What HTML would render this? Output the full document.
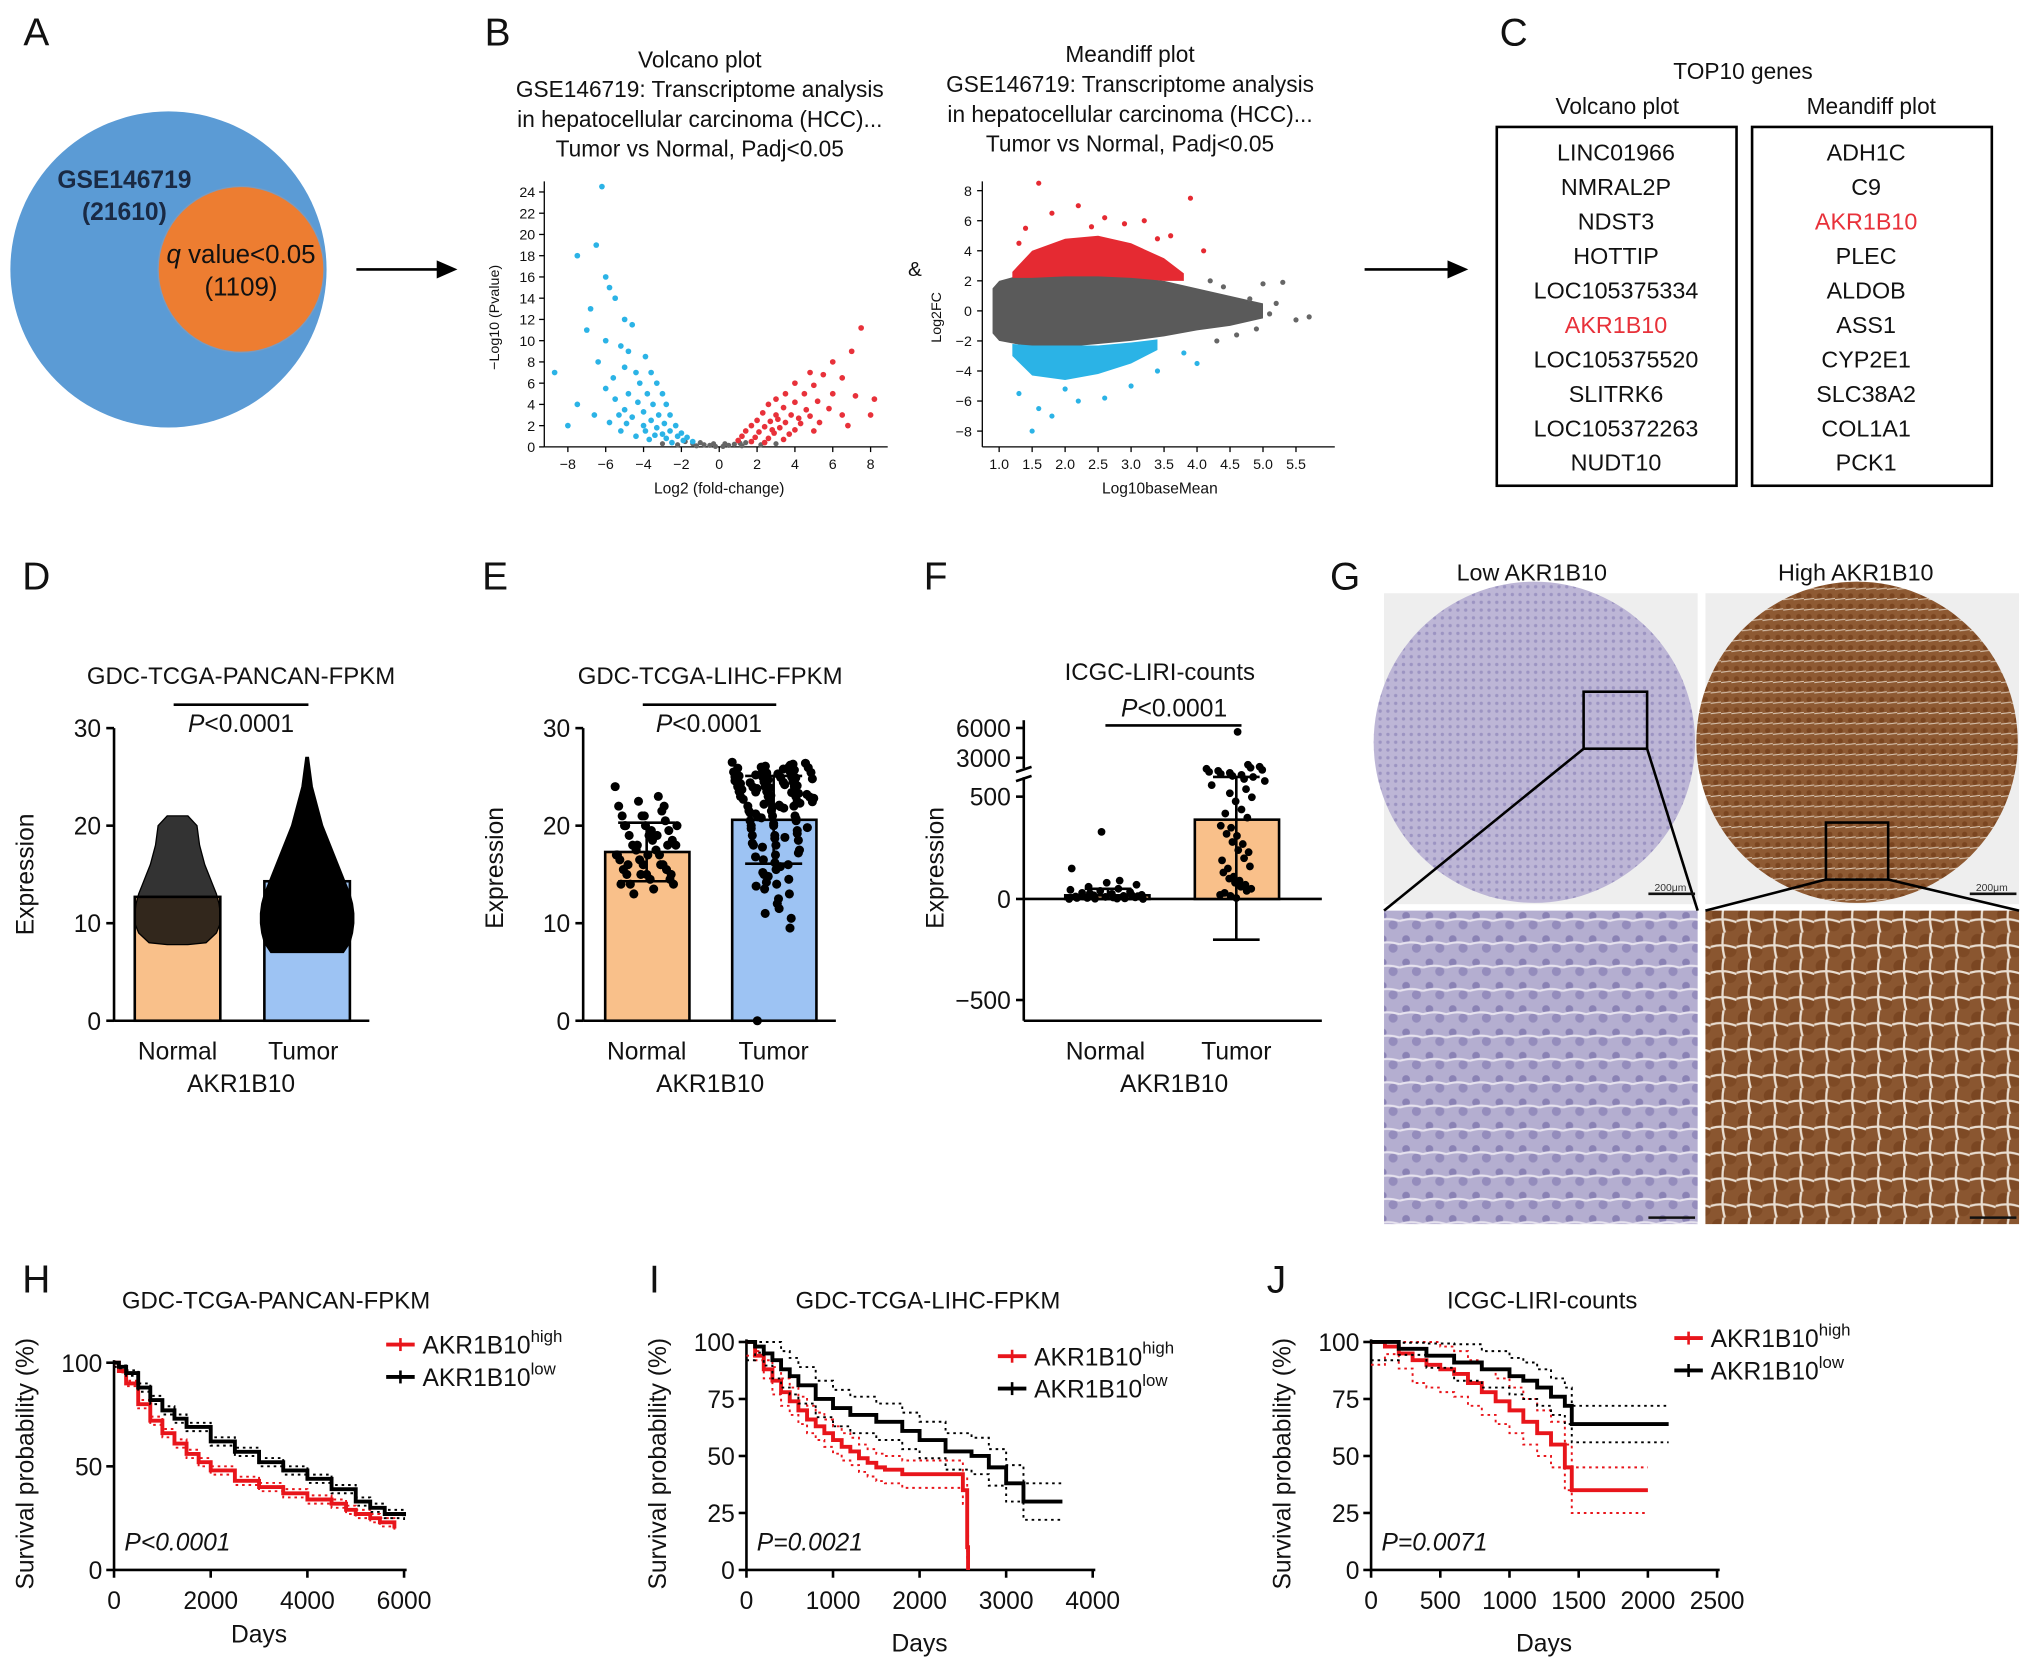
<!DOCTYPE html>
<html><head><meta charset="utf-8"><style>
html,body{margin:0;padding:0;background:#fff}
svg{display:block;font-family:"Liberation Sans",Arial,sans-serif}
</style></head><body>
<svg id="fig" width="2032" height="1671" viewBox="0 0 1568 1290" preserveAspectRatio="none" xmlns="http://www.w3.org/2000/svg">
<defs>
<pattern id="purpTex" width="18" height="18" patternUnits="userSpaceOnUse"><rect width="18" height="18" fill="#b4aed0"/><circle cx="5" cy="5" r="3" fill="#8a82b4"/><circle cx="13" cy="12" r="3.5" fill="#948cbc"/><path d="M0 9 Q9 6 18 9" stroke="#e6e2ee" stroke-width="1.6" fill="none"/></pattern>
<pattern id="brownTex" width="20" height="20" patternUnits="userSpaceOnUse"><rect width="20" height="20" fill="#8a5630"/><circle cx="6" cy="6" r="5" fill="#7a4622"/><circle cx="15" cy="14" r="5" fill="#7e4a25"/><path d="M0 11 Q10 8 20 12 M10 0 Q8 10 11 20" stroke="#e9ddd0" stroke-width="1.8" fill="none"/></pattern>
<pattern id="purpSmall" width="6" height="6" patternUnits="userSpaceOnUse"><rect width="6" height="6" fill="#bdb6d6"/><circle cx="3" cy="3" r="1.3" fill="#9c94c2"/></pattern>
<pattern id="brownSmall" width="8" height="8" patternUnits="userSpaceOnUse"><rect width="8" height="8" fill="#8e5a33"/><circle cx="4" cy="4" r="2" fill="#7a4520"/><path d="M0 7 L8 6" stroke="#d8c4b0" stroke-width="0.8"/></pattern>
</defs>
</svg>
<script>
// ===== DATA =====
const volcanoBlue=[[-6.2,24.5],[-6.5,19],[-7.5,18],[-6,16],[-5.8,15],[-5.5,14],[-6.8,13],[-5,12],[-4.6,11.5],[-7,11],[-6,10],[-5.2,9.5],[-4.8,9],[-3.9,8.5],[-6.4,8],[-5,7.5],[-4.4,7],[-3.6,7],[-8.7,7],[-5.6,6.5],[-4.2,6],[-3.3,6],[-6,5.5],[-4.8,5],[-3.8,5],[-3,5],[-5.5,4.5],[-4.3,4.2],[-3.5,4],[-2.8,4],[-5,3.5],[-4,3.3],[-3.2,3],[-2.6,3],[-4.6,2.8],[-3.6,2.5],[-2.9,2.2],[-2.3,2],[-4,2],[-3.3,1.8],[-2.6,1.5],[-2,1.3],[-3,1.2],[-2.2,1],[-1.7,0.9],[-2.8,0.8],[-1.9,0.6],[-1.4,0.5],[-7.5,4],[-6.6,3],[-5.8,2.3],[-8,2],[-5.2,1.5],[-4.4,1],[-3.7,0.7],[-2.5,0.4],[-4.9,2.2],[-3.9,1.5],[-3.4,1.1],[-5.3,3]];
const volcanoRed=[[7.5,11.2],[7,9],[6,8],[4.8,7],[5.5,6.8],[6.5,6.5],[4,6],[5,5.8],[3.5,5],[4.5,5],[6,5],[3,4.5],[4,4.2],[5.2,4.3],[7.2,4.8],[8.2,4.5],[2.6,4],[3.4,3.7],[4.6,3.5],[5.8,3.6],[2.3,3.2],[3,3],[3.8,3],[4.8,2.9],[6.5,3],[2,2.5],[2.7,2.4],[3.5,2.3],[4.3,2.2],[5.3,2.3],[1.7,2],[2.4,1.9],[3.2,1.8],[4,1.6],[5,1.5],[1.4,1.5],[2.1,1.4],[2.9,1.3],[3.7,1.2],[1.2,1],[1.9,0.9],[2.6,0.8],[3.4,0.7],[1,0.6],[1.7,0.5],[2.4,0.4],[8,3],[6.8,2],[3.1,2.6],[4.2,2.7],[2.8,1.6]];
const volcanoGrey=[[-1.8,0.5],[-1.4,0.3],[-1,0.4],[-0.8,0.2],[-0.5,0.15],[-0.2,0.05],[0.2,0.05],[0.5,0.15],[0.8,0.25],[1.1,0.35],[1.4,0.4],[-2.2,0.2],[2.2,0.2],[-1.2,0.1],[1.2,0.1],[-3,0.3],[3,0.3],[-0.3,0.3],[0.3,0.3]];
const meanX=[0.9,1.0,1.5,2.0,2.5,3.0,3.5,4.0,4.5,5.0];
const meanGreyUp=[1.5,2,2.6,2.6,2.5,2.3,2,1.5,1,0.5];
const meanGreyLo=[-1.5,-2,-2.4,-2.4,-2.2,-2,-1.7,-1.3,-1,-0.5];
const meanRedX=[1.2,1.5,2.0,2.5,3.0,3.5,3.8];
const meanRedUp=[2.6,4,4.8,5,4.5,3.5,2.5];
const meanRedLo=[2.2,2.2,2.3,2.3,2.2,2,2];
const meanBlueX=[1.2,1.5,2.0,2.5,3.0,3.4];
const meanBlueUp=[-2.2,-2.3,-2.3,-2.3,-2.1,-1.9];
const meanBlueLo=[-3,-4.3,-4.6,-4.2,-3.5,-2.6];
const meanRedPts=[[1.6,8.5],[2.2,7],[1.8,6.5],[2.6,6.2],[3.2,6],[3.9,7.5],[1.4,5.5],[2.9,5.8],[3.6,5],[4.1,4],[1.3,4.5],[2.4,5.6],[3.4,4.8]];
const meanBluePts=[[1.5,-8],[1.8,-7],[1.6,-6.5],[2.2,-6],[2.6,-5.8],[3.0,-5],[1.3,-5.5],[2.0,-5.2],[3.4,-4],[3.8,-2.8],[4.0,-3.5]];
const meanGreyPts=[[4.2,2],[4.4,1.6],[4.6,-1.6],[4.8,0.8],[5.0,1.8],[5.2,0.5],[5.3,1.9],[5.5,-0.6],[5.7,-0.4],[4.9,-1.2],[4.3,-2],[5.1,-0.2]];
const top10Volcano=["LINC01966","NMRAL2P","NDST3","HOTTIP","LOC105375334","AKR1B10","LOC105375520","SLITRK6","LOC105372263","NUDT10"];
const top10Meandiff=["ADH1C","C9","AKR1B10","PLEC","ALDOB","ASS1","CYP2E1","SLC38A2","COL1A1","PCK1"];
const dMeans=[12.7,14.3];
const dNormalLevels=[7.8,8,9,10,11,12,13,14,15,16,17,18,19,20,21];
const dNormalWidth=[8,22,30,33,33,32,30,27,24,21,19,17,16,15,8];
const dTumorLevels=[7,8,9,10,11,12,13,14,15,16,17,18,19,20,21,22,23,24,25,26,27];
const dTumorWidth=[28,33,35,36,36,35,33,30,27,24,21,18,15,12,10,8,6,4,3,2,1];
const eMeans=[17.3,20.6];
const eSD=[3,4.5];
const eNormal=[24,23,22.5,22,21.5,21,21,20.5,20,20,19.5,19,19,18.5,18.5,18,18,17.5,17.5,17,17,16.5,16.5,16,16,15.5,15.5,15,15,14.5,14.5,14,14,13.5,13,20,19,18,17,16,15,14,22,21,20,18,17,16,15,19.5];
const eTumor=[26.5,26,26,25.5,25.5,25,25,25,24.5,24.5,24.5,24,24,24,23.5,23.5,23,23,23,22.5,22.5,22,22,21.5,21.5,21,21,20.5,20.5,20,20,19.5,19,19,18.5,18,18,17.5,17,16.5,16,15.5,15,14.5,14,13.5,13,12,11,9.5,25.8,25.2,24.8,24.2,23.8,22.8,21.8,20.8,19.8,18.8,17.8,16.8,15.8,14.8,13.8,26.2,25.6,24.6,23.4,22.2,0,26.3,26.1,25.9,25.7,25.4,25.1,24.9,24.7,24.3,24.1,23.9,23.7,23.3,23.1,22.7,22.3,21.9,21.3,20.7,20.2,19.7,19.2,18.7,18.2,17.2,16.2,15.2,26.4,25.3,24.4,23.2,22.1,21.2,25.95,24.95,23.95,22.95,21.95,20.9,25.45,24.45,23.45,22.45,12.5,14.2,10.5,11.5];
const fMeans=[18,390];
const fErr=[[0,50],[-200,600]];
const fNormal=[0,2,5,8,10,12,15,18,20,25,30,35,40,45,50,60,70,80,5,3,1,0,7,12,22,330,150,90,28,14];
const fTumor=[20,40,60,80,100,130,160,200,240,280,320,360,400,440,480,520,560,580,600,610,620,630,640,650,660,5,15,30,50,70,90,110,150,190,230,270,310,350,420,500,540,590,605,615,625,635,645];
const hDays=[[0,100,250,500,750,1000,1250,1500,1750,2000,2500,3000,3500,4000,4500,4800,5000,5300,5500,5800],[0,100,250,500,750,1000,1250,1500,2000,2500,3000,3500,4000,4500,5000,5300,5600,6000]];
const hSurv=[[100,96,90,80,72,66,61,56,52,48,43,40,37,34,32,29,27,25,23,20],[100,98,95,88,82,77,73,69,62,57,52,48,44,39,33,30,27,26]];
const iDays=[[0,100,200,300,400,500,600,700,800,900,1000,1100,1200,1300,1400,1500,1600,1800,2000,2200,2400,2500,2550,2560],[0,100,200,300,400,500,600,800,1000,1200,1500,1800,2000,2300,2600,2800,3000,3200,3300,3650]];
const iSurv=[[100,94,88,83,78,74,70,66,63,60,57,54,52,49,47,45,44,42,42,42,42,35,10,0],[100,98,95,92,88,85,81,75,71,68,65,61,57,52,50,45,38,30,30,30]];
const jDays=[[0,100,200,300,400,500,600,700,800,900,1000,1100,1200,1300,1400,1450,1500,2000],[0,200,400,600,800,1000,1100,1200,1300,1400,1450,2150]];
const jSurv=[[100,98,95,92,90,88,86,82,78,74,70,65,60,55,45,35,35,35],[100,97,94,91,88,85,83,80,76,72,64,64]];
const kmTicksH=[0,2000,4000,6000], kmTicksI=[0,1000,2000,3000,4000], kmTicksJ=[0,500,1000,1500,2000,2500];
const kmY=[0,25,50,75,100];

// ===== HELPERS =====
const svg=document.getElementById('fig');
const NS='http://www.w3.org/2000/svg';
function mk(tag,attrs,parent){const e=document.createElementNS(NS,tag);for(const k in attrs)e.setAttribute(k,attrs[k]);(parent||svg).appendChild(e);return e;}
function txt(x,y,s,size,opts,parent){const o=Object.assign({x:x,y:y,'font-size':size,'text-anchor':'middle',fill:'#111'},opts||{});const t=mk('text',o,parent);t.textContent=s;return t;}
function grp(name){const g=mk('g',{});return g;}
function line(x1,y1,x2,y2,w,c,parent,dash){const o={x1,y1,x2,y2,stroke:c||'#000','stroke-width':w||1.5};if(dash)o['stroke-dasharray']=dash;return mk('line',o,parent);}

// ===== PANEL LETTERS =====
const letters=[['A',28,35],['B',384,35],['C',1168,35],['D',28,455],['E',382,455],['F',722,455],['G',1038,455],['H',28,998],['I',505,998],['J',985,998]];
const gl=grp('panel-letters');
letters.forEach(l=>{const t=txt(l[1],l[2],l[0],30,{},gl);});

// ===== A: Venn =====
const gA=grp('venn-diagram');
let c=mk('circle',{cx:130,cy:208,r:122,fill:'#5b9bd5'},gA);

c=mk('circle',{cx:186,cy:208,r:64,fill:'#ed7d31',stroke:'#7a9bc0','stroke-width':1},gA);

txt(96,145,'GSE146719',19,{'font-weight':'bold','fill':'#1a2a44'},gA);
txt(96,170,'(21610)',19,{'font-weight':'bold','fill':'#1a2a44'},gA);
const qt=txt(186,203,'',20,{},gA);qt.innerHTML='<tspan font-style="italic">q</tspan> value&lt;0.05';
txt(186,228,'(1109)',20,{},gA);
function arrow(x1,x2,y,name){const g=grp(name);line(x1,y,x2-10,y,2,'#000',g);mk('polygon',{points:`${x2},${y} ${x2-16},${y-7} ${x2-16},${y+7}`,fill:'#000'},g);}
arrow(275,353,208,'arrow-a-to-b');arrow(1053,1133,208,'arrow-b-to-c');

// ===== B: Volcano =====
const gV=grp('volcano-plot');
const vx=v=>555+v*14.6, vy=v=>345-v*8.2;
['Volcano plot','GSE146719: Transcriptome analysis','in hepatocellular carcinoma (HCC)...','Tumor vs Normal, Padj<0.05'].forEach((s,i)=>txt(540,52+i*23,s,17.5,{},gV));
line(420,345,685,345,1,'#000',gV);line(420,140,420,345,1,'#000',gV);
[-8,-6,-4,-2,0,2,4,6,8].forEach(t=>{line(vx(t),345,vx(t),349,1,'#000',gV);txt(vx(t),362,String(t).replace('-','−'),11,{},gV);});
for(let t=0;t<=24;t+=2){line(416,vy(t),420,vy(t),1,'#000',gV);txt(413,vy(t)+4,t,11,{'text-anchor':'end'},gV);}
txt(555,381,'Log2 (fold-change)',12,{},gV);
txt(385,245,'−Log10 (Pvalue)',11,{transform:'rotate(-90 385 245)'},gV);
volcanoGrey.forEach(p=>{const d=mk('circle',{cx:vx(p[0]),cy:vy(p[1]),r:2,fill:'#666'},gV);});
volcanoBlue.forEach(p=>{const d=mk('circle',{cx:vx(p[0]),cy:vy(p[1]),r:2.2,fill:'#2bb3e6'},gV);});
volcanoRed.forEach(p=>{const d=mk('circle',{cx:vx(p[0]),cy:vy(p[1]),r:2.2,fill:'#e8313a'},gV);});
txt(706,213,'&',16,{},gV);

// ===== B: Meandiff =====
const gM=grp('meandiff-plot');
const mx=v=>771+(v-1)*50.9, my=v=>240-v*11.6;
['Meandiff plot','GSE146719: Transcriptome analysis','in hepatocellular carcinoma (HCC)...','Tumor vs Normal, Padj<0.05'].forEach((s,i)=>txt(872,48+i*23,s,17.5,{},gM));
line(758,140,758,345,1,'#000',gM);line(758,345,1030,345,1,'#000',gM);
[1,1.5,2,2.5,3,3.5,4,4.5,5,5.5].forEach(t=>{line(mx(t),345,mx(t),349,1,'#000',gM);txt(mx(t),362,t.toFixed(1),11,{},gM);});
[-8,-6,-4,-2,0,2,4,6,8].forEach(t=>{line(754,my(t),758,my(t),1,'#000',gM);txt(750,my(t)+4,String(t).replace('-','−'),11,{'text-anchor':'end'},gM);});
txt(895,381,'Log10baseMean',12,{},gM);
txt(726,245,'Log2FC',11,{transform:'rotate(-90 726 245)'},gM);
function env(xs,up,lo,col,name){let d='M'+xs.map((x,i)=>mx(x)+' '+my(up[i])).join(' L')+' L'+xs.slice().reverse().map((x,i)=>mx(x)+' '+my(lo[lo.length-1-i])).join(' L')+'Z';const p=mk('path',{d:d,fill:col},gM);}
env(meanX,meanGreyUp,meanGreyLo,'#5a5a5a','meandiff-ns-cloud');
env(meanRedX,meanRedUp,meanRedLo,'#e52a32','meandiff-up-cloud');
env(meanBlueX,meanBlueUp,meanBlueLo,'#2bb3e6','meandiff-down-cloud');
meanGreyPts.forEach(p=>{const d=mk('circle',{cx:mx(p[0]),cy:my(p[1]),r:2,fill:'#666'},gM);});
meanRedPts.forEach(p=>{const d=mk('circle',{cx:mx(p[0]),cy:my(p[1]),r:2,fill:'#e52a32'},gM);});
meanBluePts.forEach(p=>{const d=mk('circle',{cx:mx(p[0]),cy:my(p[1]),r:2,fill:'#2bb3e6'},gM);});

// ===== C: top10 =====
const gC=grp('top10-genes-table');
txt(1345,61,'TOP10 genes',17.5,{},gC);
txt(1248,88,'Volcano plot',17.5,{},gC);txt(1444,88,'Meandiff plot',17.5,{},gC);
mk('rect',{x:1155,y:98,width:185,height:277,fill:'none',stroke:'#000','stroke-width':2},gC);
mk('rect',{x:1352,y:98,width:185,height:277,fill:'none',stroke:'#000','stroke-width':2},gC);
top10Volcano.forEach((g,i)=>{const t=txt(1247,124+i*26.6,g,18,{fill:g==='AKR1B10'?'#e8313a':'#111'},gC);});
top10Meandiff.forEach((g,i)=>{const t=txt(1440,124+i*26.6,g,18,{fill:g==='AKR1B10'?'#e8313a':'#111'},gC);});

// ===== Bar panels =====
function barAxes(g,x0,x1,ticks,yf,title,tx){
  line(x0,yf(ticks[0])+0,x0,yf(ticks[ticks.length-1]),2,'#000',g);
  ticks.forEach(t=>{line(x0-6,yf(t),x0,yf(t),2,'#000',g);txt(x0-10,yf(t)+7,String(t).replace('-','−'),19,{'text-anchor':'end'},g);});
  txt(tx,528,title,18.5,{},g);
}
const ORANGE='#f9c08a', BLUE='#9dc3f3';
// D
const gD=grp('chart-d-pancan-expression');
const dy=v=>788-v*7.53;
barAxes(gD,88,270,[0,10,20,30],dy,'GDC-TCGA-PANCAN-FPKM',186);
line(88,788,285,788,2,'#000',gD);
[[104,ORANGE],[204,BLUE]].forEach((b,i)=>{const r=mk('rect',{x:b[0],y:dy(dMeans[i]),width:66,height:788-dy(dMeans[i]),fill:b[1],stroke:'#000','stroke-width':2},gD);});
[[137,dNormalLevels,dNormalWidth],[237,dTumorLevels,dTumorWidth]].forEach((v,k)=>{let pts=[];v[1].forEach((l,i)=>pts.push((v[0]-v[2][i])+','+dy(l)));for(let i=v[1].length-1;i>=0;i--)pts.push((v[0]+v[2][i])+','+dy(v[1][i]));const p=mk('polygon',{points:pts.join(' '),fill:'#000','fill-opacity':k?1:0.8,stroke:'#000','stroke-width':1},gD);});
line(134,544,238,544,2,'#000',gD);
const pD=txt(186,565,'',19,{},gD);pD.innerHTML='<tspan font-style="italic">P</tspan>&lt;0.0001';
txt(137,818,'Normal',19,{},gD);txt(234,818,'Tumor',19,{},gD);txt(186,843,'AKR1B10',19,{},gD);
txt(26,675,'Expression',19,{transform:'rotate(-90 26 675)'},gD);
// E
const gE=grp('chart-e-lihc-expression');
const ey=v=>788-v*7.53;
barAxes(gE,450,640,[0,10,20,30],ey,'GDC-TCGA-LIHC-FPKM',548);
line(450,788,645,788,2,'#000',gE);
[[467,ORANGE],[565,BLUE]].forEach((b,i)=>{const r=mk('rect',{x:b[0],y:ey(eMeans[i]),width:65,height:788-ey(eMeans[i]),fill:b[1],stroke:'#000','stroke-width':2},gE);});
eNormal.forEach((v,i)=>{const d=mk('circle',{cx:499+((i*37)%54-27)*0.9,cy:ey(v),r:3.5,fill:'#000'},gE);});
eTumor.forEach((v,i)=>{const w=v>22?32:(v>17?26:14);const d=mk('circle',{cx:597+((i*41)%61-30)/30*w,cy:ey(v),r:3.5,fill:'#000'},gE);});
[[499,0],[597,1]].forEach(b=>{const m=eMeans[b[1]],s=eSD[b[1]];line(b[0],ey(m-s),b[0],ey(m+s),2,'#000',gE);line(b[0]-22,ey(m-s),b[0]+22,ey(m-s),2,'#000',gE);line(b[0]-22,ey(m+s),b[0]+22,ey(m+s),2,'#000',gE);});
line(496,544,599,544,2,'#000',gE);
const pE=txt(547,565,'',19,{},gE);pE.innerHTML='<tspan font-style="italic">P</tspan>&lt;0.0001';
txt(499,818,'Normal',19,{},gE);txt(597,818,'Tumor',19,{},gE);txt(548,843,'AKR1B10',19,{},gE);
txt(388,670,'Expression',19,{transform:'rotate(-90 388 670)'},gE);
// F
const gF=grp('chart-f-icgc-expression');
const fy=v=>694-v*0.157;
txt(895,525,'ICGC-LIRI-counts',18.5,{},gF);
line(790,600,790,788,2,'#000',gF);line(790,556,790,593,2,'#000',gF);
line(784,596,796,592,2,'#000',gF);line(784,603,796,599,2,'#000',gF);
[[500,615],[0,694],[-500,772]].forEach(t=>{line(784,t[1],790,t[1],2,'#000',gF);txt(780,t[1]+7,String(t[0]).replace('-','−'),19,{'text-anchor':'end'},gF);});
[[6000,562],[3000,585]].forEach(t=>{line(784,t[1],790,t[1],2,'#000',gF);txt(780,t[1]+7,t[0],19,{'text-anchor':'end'},gF);});
line(790,694,1020,694,2,'#000',gF);line(790,788,1020,788,2,'#000',gF);
[[822,ORANGE],[922,ORANGE]].forEach((b,i)=>{const r=mk('rect',{x:b[0],y:fy(fMeans[i]),width:65,height:694-fy(fMeans[i]),fill:b[1],stroke:'#000','stroke-width':2},gF);});
fNormal.forEach((v,i)=>{const d=mk('circle',{cx:855+((i*37)%60-30),cy:fy(v),r:3,fill:'#000'},gF);});
fTumor.forEach((v,i)=>{const d=mk('circle',{cx:954+((i*41)%50-25)*(v>550?1:0.5),cy:fy(v),r:3,fill:'#000'},gF);});
mk('circle',{cx:955,cy:565,r:3,fill:'#000'},gF);
[[855,0],[954,1]].forEach(b=>{const e=fErr[b[1]];line(b[0],fy(e[0]),b[0],fy(e[1]),2,'#000',gF);line(b[0]-18,fy(e[0]),b[0]+18,fy(e[0]),2,'#000',gF);line(b[0]-18,fy(e[1]),b[0]+18,fy(e[1]),2,'#000',gF);});
line(853,560,958,560,2,'#000',gF);
const pF=txt(906,553,'',19,{},gF);pF.innerHTML='<tspan font-style="italic">P</tspan>&lt;0.0001';
txt(853,818,'Normal',19,{},gF);txt(954,818,'Tumor',19,{},gF);txt(906,843,'AKR1B10',19,{},gF);
txt(728,670,'Expression',19,{transform:'rotate(-90 728 670)'},gF);

// ===== G: IHC images =====
const gG=grp('ihc-images');
txt(1182,448,'Low AKR1B10',18,{},gG);txt(1432,448,'High AKR1B10',18,{},gG);
mk('rect',{x:1068,y:458,width:242,height:240,fill:'#eeeeee'},gG);
mk('rect',{x:1316,y:458,width:242,height:240,fill:'#eeeeee'},gG);
let im=mk('circle',{cx:1184,cy:573,r:124,fill:'url(#purpSmall)'},gG);
im=mk('circle',{cx:1433,cy:573,r:124,fill:'url(#brownSmall)'},gG);
im=mk('rect',{x:1068,y:703,width:242,height:242,fill:'url(#purpTex)'},gG);
im=mk('rect',{x:1316,y:703,width:242,height:242,fill:'url(#brownTex)'},gG);
mk('rect',{x:1222,y:534,width:49,height:44,fill:'none',stroke:'#000','stroke-width':2},gG);
mk('rect',{x:1409,y:635,width:48,height:44,fill:'none',stroke:'#000','stroke-width':2},gG);
line(1222,578,1068,703,2,'#000',gG);line(1271,578,1310,703,2,'#000',gG);
line(1409,679,1316,703,2,'#000',gG);line(1457,679,1558,703,2,'#000',gG);
[[1292,690],[1540,690],[1292,940],[1540,940]].forEach(p=>line(p[0]-20,p[1],p[0]+16,p[1],2,'#111',gG));
txt(1289,688,'200μm',8,{fill:'#333'},gG);txt(1537,688,'200μm',8,{fill:'#333'},gG);

// ===== KM =====
function km(name,title,tx,x0,xs,ymin,ymax,ticks,days,surv,legX,legY,pTxt,pX,ci){
  const g=grp(name);
  const X=d=>x0+d*xs, Y=v=>1212-v*(1212-ymax)/100;
  txt(tx,1010,title,18.5,{},g);
  line(x0,Y(100)-2,x0,1212,2,'#000',g);line(x0,1212,X(ticks[ticks.length-1])+2,1212,2,'#000',g);
  kmY.forEach(t=>{if(ymax>1045&&t%50)return;line(x0-6,Y(t),x0,Y(t),2,'#000',g);txt(x0-9,Y(t)+7,t,19,{'text-anchor':'end'},g);});
  ticks.forEach(t=>{line(X(t),1212,X(t),1218,2,'#000',g);txt(X(t),1242,t,19,{},g);});
  txt((x0+X(ticks[ticks.length-1]))/2,ymax>1045?1268:1275,'Days',19,{},g);
  const yl=x0-62;txt(yl,1130,'Survival probability (%)',19,{transform:`rotate(-90 ${yl} 1130)`},g);
  ['#e8151b','#000'].forEach((col,k)=>{
    const step=(off)=>{let d='M'+X(days[k][0])+' '+Y(Math.min(100,surv[k][0]+off));for(let i=1;i<days[k].length;i++){d+=' H'+X(days[k][i])+' V'+Y(Math.max(0,Math.min(100,surv[k][i]+off*Math.min(1,i/3))));}return d;};
    [ci[k],-ci[k]].forEach(o=>{const p=mk('path',{d:step(o),fill:'none',stroke:col,'stroke-width':1.5,'stroke-dasharray':'2 3'},g);});
    const p=mk('path',{d:step(0),fill:'none',stroke:col,'stroke-width':3},g);
    
    line(legX,legY+k*25,legX+22,legY+k*25,3,col,g);line(legX+11,legY+k*25-5,legX+11,legY+k*25+5,2,col,g);
    const t=txt(legX+28,legY+k*25+7,'',19,{'text-anchor':'start'},g);t.innerHTML='AKR1B10<tspan font-size="13" dy="-9">'+(k?'low':'high')+'</tspan>';
    
  });
  txt(pX,1197,pTxt,19,{'text-anchor':'start','font-style':'italic'},g);
}
km('chart-h-pancan-survival','GDC-TCGA-PANCAN-FPKM',213,88,0.0373,0,1052,kmTicksH,hDays,hSurv,298,1038,'P<0.0001',96,[2,2]);
km('chart-i-lihc-survival','GDC-TCGA-LIHC-FPKM',716,576,0.0668,0,1036,kmTicksI,iDays,iSurv,770,1047,'P=0.0021',584,[6,8]);
km('chart-j-icgc-survival','ICGC-LIRI-counts',1190,1058,0.1068,0,1036,kmTicksJ,jDays,jSurv,1292,1033,'P=0.0071',1066,[10,8]);
</script>
</body></html>
